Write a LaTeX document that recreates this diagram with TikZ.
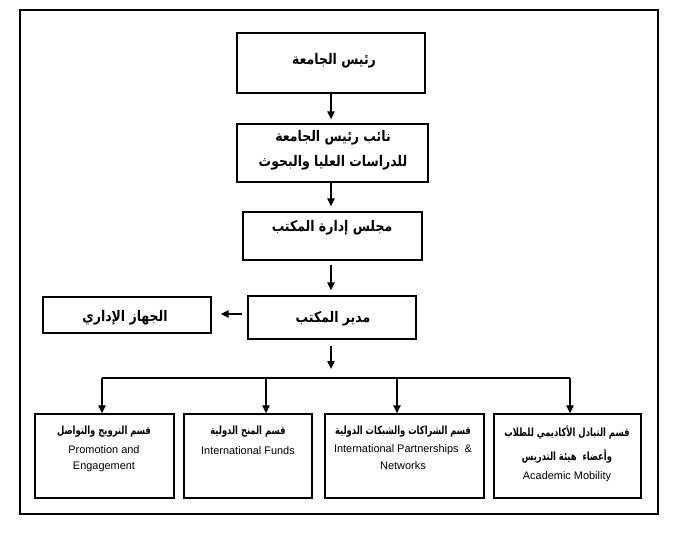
\documentclass[tikz,border=0pt]{standalone}
\usepackage{fontspec}
\setmainfont{Liberation Sans}
\newfontfamily\artopf[Script=Arabic,FakeStretch=0.85]{DejaVu Sans}
\newfontfamily\arsubf[Script=Arabic,FakeStretch=0.74]{DejaVu Sans}
\TeXXeTstate=1
\usetikzlibrary{arrows.meta,fit}
\tikzset{
  px/.style={x=0.75pt,y=-0.75pt},
  box/.style={draw,line width=1pt,inner sep=0pt,fit={#1}},
  conn/.style={line width=1pt,-{Triangle[length=6pt,width=5.5pt]}},
  plain/.style={line width=1pt},
  artop/.style={font=\artopf\bfseries\fontsize{11}{13}\selectfont,inner sep=0pt},
  arsub/.style={font=\arsubf\bfseries\fontsize{8.5}{10}\selectfont,inner sep=0pt},
  ensub/.style={font=\fontsize{8.2}{10}\selectfont,inner sep=0pt},
}
\begin{document}
\begin{tikzpicture}[px]
\useasboundingbox (0,0) rectangle (678,537);
\draw[line width=1pt] (20,10) rectangle (658,514);
% boxes
\node[box={(237,33) (425,93)}] (b1) {};
\node[box={(237,124) (428,182)}] (b2) {};
\node[box={(243,212) (422,260)}] (b3) {};
\node[box={(248,296) (416,339)}] (b4) {};
\node[box={(43,297) (211,333)}] (b5) {};
\node[box={(35,414) (174,498)}] (bA) {};
\node[box={(184,414) (312,498)}] (bB) {};
\node[box={(325,414) (484,498)}] (bC) {};
\node[box={(494,414) (641,498)}] (bD) {};
% texts
\node[artop] (t1) at (334,61) {\beginR رئيس الجامعة\endR};
\node[artop] (t2a) at (333,138) {\beginR نائب رئيس الجامعة\endR};
\node[artop] (t2b) at (333,163) {\beginR للدراسات العليا والبحوث\endR};
\node[artop] (t3) at (332,228) {\beginR مجلس إدارة المكتب\endR};
\node[artop] (t4) at (333,319) {\beginR مدير المكتب\endR};
\node[artop] (t5) at (125,318) {\beginR الجهاز الإداري\endR};
\node[arsub] (tA1) at (104,432) {\beginR قسم الترويج والتواصل\endR};
\node[ensub] (tA2) at (104,450) {Promotion and};
\node[ensub] (tA3) at (104,467) {Engagement};
\node[arsub] (tB1) at (248,432) {\beginR قسم المنح الدولية\endR};
\node[ensub] (tB2) at (248,451) {International Funds};
\node[arsub] (tC1) at (403,432) {\beginR قسم الشراكات والشبكات الدولية\endR};
\node[ensub] (tC2) at (403,450) {International Partnerships \ \&};
\node[ensub] (tC3) at (403,466) {Networks};
\node[arsub] (tD1) at (567,433) {\beginR قسم التبادل الأكاديمي للطلاب\endR};
\node[arsub] (tD2) at (567,456) {\beginR وأعضاء \ هيئة التدريس\endR};
\node[ensub] (tD3) at (567,477) {Academic Mobility};
% connectors
\draw[conn,shorten >=3pt] (b1.south -| 331,0) -- (b2.north -| 331,0);
\draw[conn] (b2.south -| 331,0) -- ([yshift=3.75pt]b3.north -| 331,0);
\draw[conn] ([yshift=-3pt]b3.south -| 331,0) -- ([yshift=3.75pt]b4.north -| 331,0);
\draw[conn] ([xshift=-3.75pt]b4.west |- 0,314) -- ([xshift=6.75pt]b5.east |- 0,314);
\coordinate (busC) at (331,378);
\coordinate (busL) at (102,378);
\coordinate (busR) at (570,378);
\coordinate (busB) at (266,378);
\coordinate (busCC) at (397,378);
\draw[conn] ([yshift=-4.5pt]b4.south -| 331,0) -- ([yshift=6.75pt]busC);
\draw[plain] (busL) -- (busR);
\draw[conn] (busL) -- (bA.north -| busL);
\draw[conn] (busB) -- (bB.north -| busB);
\draw[conn] (busCC) -- (bC.north -| busCC);
\draw[conn] (busR) -- (bD.north -| busR);
\end{tikzpicture}
\end{document}
